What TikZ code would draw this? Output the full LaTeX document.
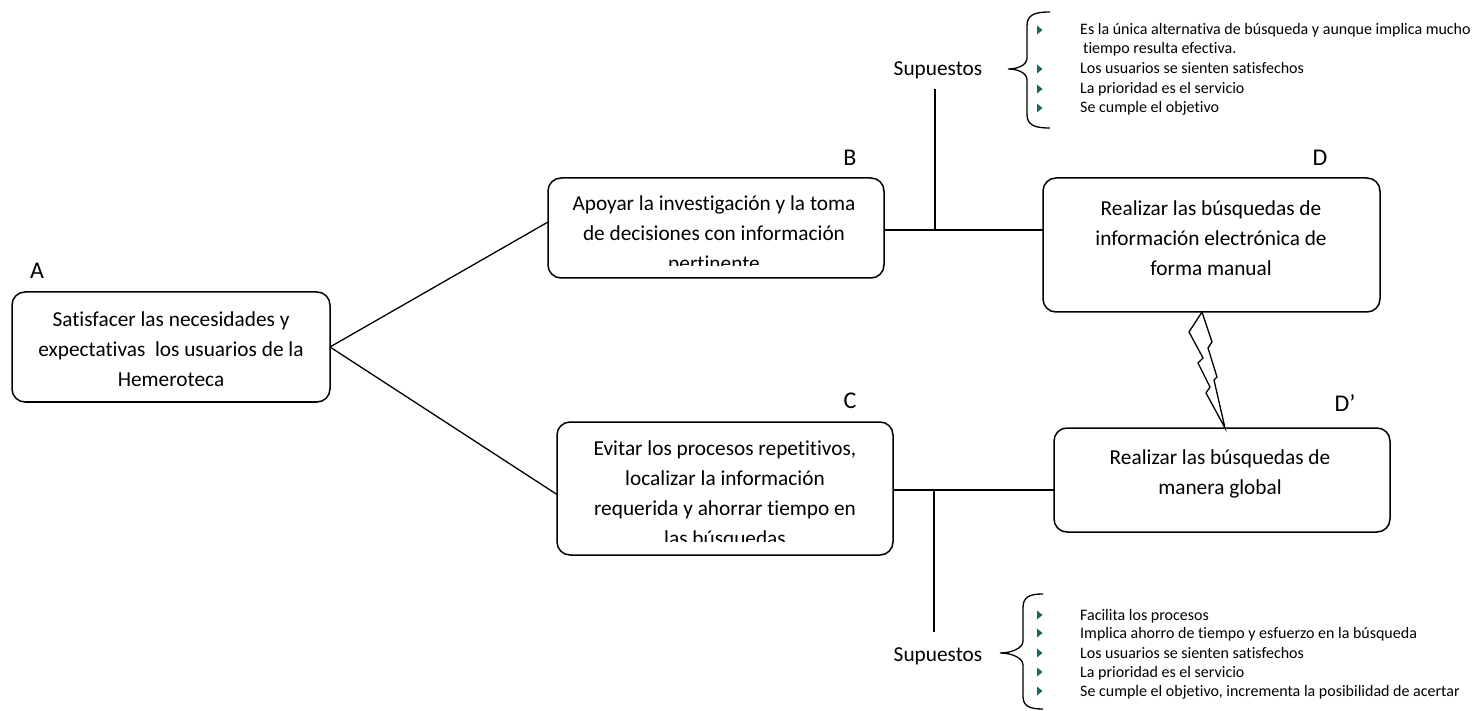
\documentclass[tikz,border=0pt]{standalone}
\usepackage{fontspec}
\setmainfont{Carlito}[Ligatures=NoCommon]
\definecolor{bulcol}{RGB}{26,102,99}
\begin{document}
\begin{tikzpicture}[x=1pt,y=-1pt,
  box/.style={draw, line width=1.5pt, rounded corners=13pt, inner sep=0pt, outer sep=0pt},
  conn/.style={line width=1.3pt},
  big/.style={font=\fontsize{21.3}{30}\selectfont, anchor=base, inner sep=0pt},
  small/.style={font=\fontsize{16}{19}\selectfont, anchor=base west, inner sep=0pt},
  lab/.style={font=\fontsize{24}{28}\selectfont, anchor=base, inner sep=0pt},
  bul/.style={fill=bulcol},
  brace/.style={line width=1.3pt}]
\useasboundingbox (0,0) rectangle (1476,711);
\fill[white] (0,0) rectangle (1476,711);

% boxes
\node[box, minimum width=318pt, minimum height=110pt] (A) at (171,347) {};
\node[box, minimum width=336pt, minimum height=100pt] (B) at (716,228) {};
\node[box, minimum width=336pt, minimum height=133pt] (C) at (725,488.5) {};
\node[box, minimum width=337pt, minimum height=134pt] (D) at (1211.5,245) {};
\node[box, minimum width=336pt, minimum height=104pt] (Dp) at (1222,480) {};

% labels
\node[lab] (lA) at (37,279) {A};
\node[lab] (lB) at (850,166) {B};
\node[lab] (lC) at (850,409) {C};
\node[lab] (lD) at (1320,166) {D};
\node[lab] (lDp) at (1345,411) {D’};

% box texts
\node[big] (a1) at (171,327) {Satisfacer las necesidades y};
\node[big] (a2) at (171,357) {expectativas~ los usuarios de la};
\node[big] (a3) at (171,387) {Hemeroteca};

\begin{scope}
\clip (548,178) rectangle (884,266);
\node[big] (b1) at (714,211) {Apoyar la investigación y la toma};
\node[big] (b2) at (714,241) {de decisiones con información};
\node[big] (b3) at (714,271) {pertinente};
\end{scope}

\begin{scope}
\clip (557,422) rectangle (893,541);
\node[big] (c1) at (725,455) {Evitar los procesos repetitivos,};
\node[big] (c2) at (725,485) {localizar la información};
\node[big] (c3) at (725,515) {requerida y ahorrar tiempo en};
\node[big] (c4) at (725,545) {las búsquedas};
\end{scope}

\node[big] (d1) at (1211,216) {Realizar las búsquedas de};
\node[big] (d2) at (1211,246) {información electrónica de};
\node[big] (d3) at (1211,276) {forma manual};

\node[big] (e1) at (1220,464) {Realizar las búsquedas de};
\node[big] (e2) at (1220,494) {manera global};

% connectors
\draw[conn] (A.east) -- ([yshift=6pt]B.west);
\draw[conn] (A.east) -- ([yshift=-6pt]C.west);
\draw[conn] ([yshift=-2pt]B.east) -- ([yshift=-2pt]B.east -| D.west);
\draw[conn] ([yshift=-1.5pt]C.east) -- ([yshift=-1.5pt]C.east -| Dp.west);
\coordinate (jB) at (935,230);
\coordinate (sB) at (935,89);
\coordinate (jC) at (934,490);
\coordinate (sC) at (934,632);
\draw[conn] (jB) -- (sB);
\draw[conn] (jC) -- (sC);

% lightning between D and D'
\draw[conn, line join=miter] (1202,312) -- (1189,332) -- (1203,358) -- (1198,363) -- (1210,387) -- (1206,393) -- (1225,428)
  -- (1214,380) -- (1217,377) -- (1208,348) -- (1212,342) -- cycle;

% top assumptions
\node[big] (sup1) at (938,76) {Supuestos};
\draw[brace] (1050,12) .. controls (1034,12) and (1027,15) .. (1027,26) -- (1027,58)
  .. controls (1027,65) and (1018,69) .. (1008,69)
  .. controls (1018,69) and (1027,73) .. (1027,80) -- (1027,114)
  .. controls (1027,125) and (1034,128) .. (1050,128);
\foreach \yy in {30,69,89,108} \fill[bul] (1037,\yy-4.5) -- (1042.5,\yy) -- (1037,\yy+4.5) -- cycle;
\node[small] (t1) at (1080,35) {Es la única alternativa de búsqueda y aunque implica mucho};
\node[small] (t2) at (1083,54) {tiempo resulta efectiva.};
\node[small] (t3) at (1080,74) {Los usuarios se sienten satisfechos};
\node[small] (t4) at (1080,93.5) {La prioridad es el servicio};
\node[small] (t5) at (1080,113) {Se cumple el objetivo};

% bottom assumptions
\node[big] (sup2) at (938,661) {Supuestos};
\draw[brace] (1043,594) .. controls (1029,594) and (1023,597) .. (1023,608) -- (1023,641)
  .. controls (1023,648) and (1012,653) .. (1000,653)
  .. controls (1012,653) and (1023,658) .. (1023,665) -- (1023,696)
  .. controls (1023,706) and (1029,709) .. (1043,709);
\foreach \yy in {615,633,653,672,691} \fill[bul] (1037,\yy-4.5) -- (1042.5,\yy) -- (1037,\yy+4.5) -- cycle;
\node[small] (u1) at (1080,620) {Facilita los procesos};
\node[small] (u2) at (1080,638.5) {Implica ahorro de tiempo y esfuerzo en la búsqueda};
\node[small] (u3) at (1080,658) {Los usuarios se sienten satisfechos};
\node[small] (u4) at (1080,677) {La prioridad es el servicio};
\node[small] (u5) at (1080,696) {Se cumple el objetivo, incrementa la posibilidad de acertar};
\end{tikzpicture}
\end{document}
